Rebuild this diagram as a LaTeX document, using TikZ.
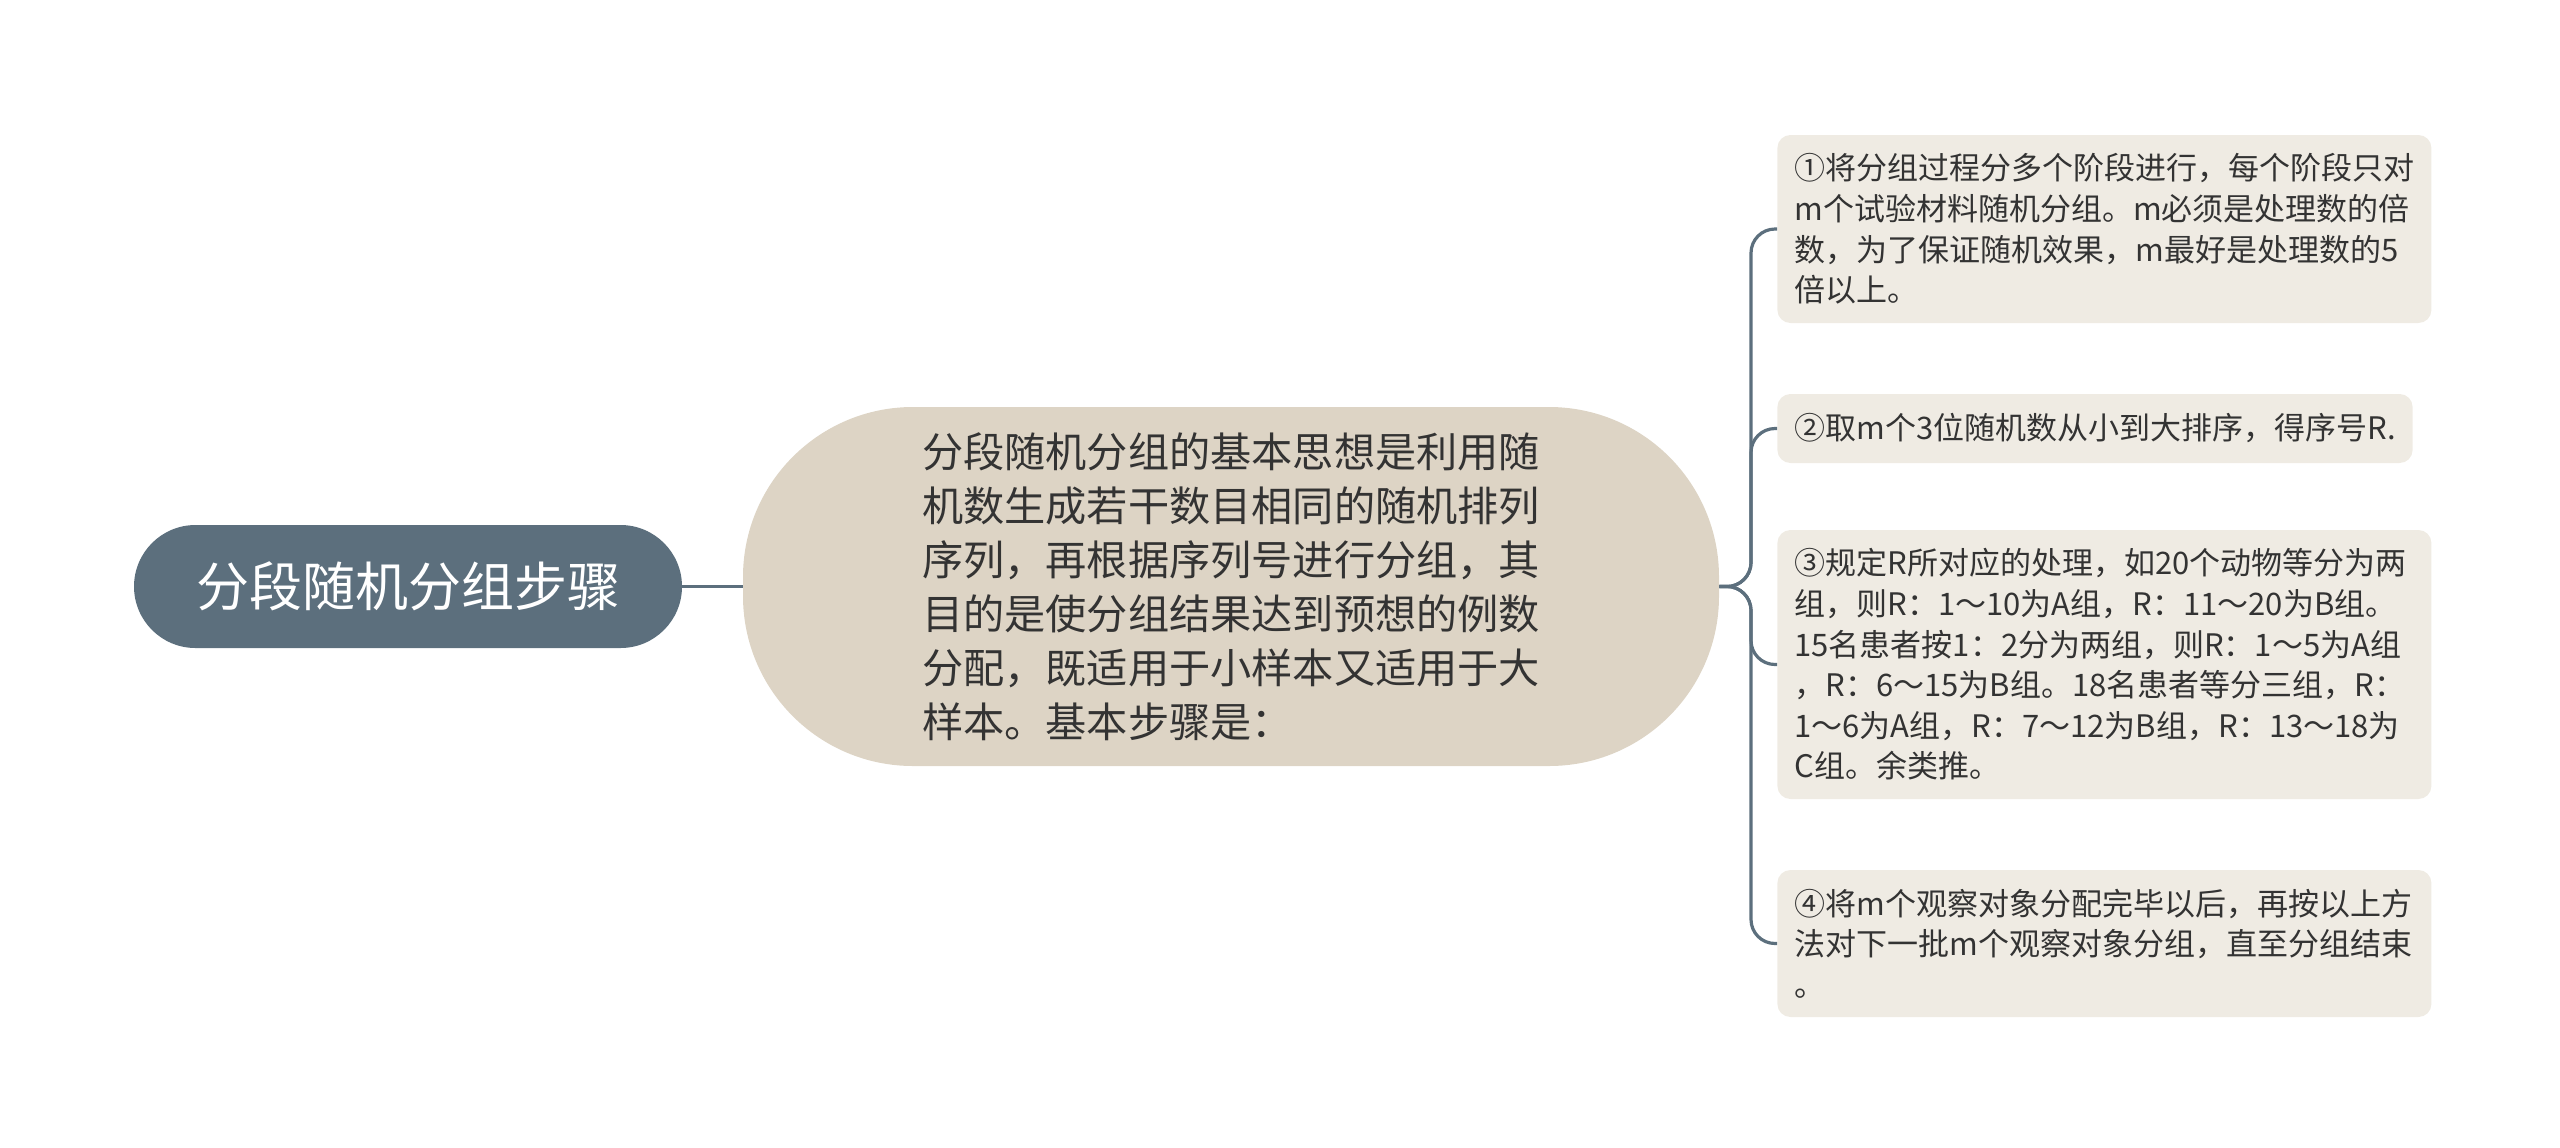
\documentclass[tikz,border=0pt]{standalone}
\usepackage{fontspec}
\newfontfamily\cjk{Noto Sans CJK SC}
\definecolor{connc}{HTML}{5C6F7D}
\definecolor{rootc}{HTML}{5C6F7D}
\definecolor{centc}{HTML}{DDD4C5}
\definecolor{leafc}{HTML}{EFEBE3}
\definecolor{txtc}{HTML}{333333}
\begin{document}
\begin{tikzpicture}[x=0.5pt,y=-0.5pt,
  conn/.style={draw=connc,line width=1.6pt,rounded corners=12pt},
  rootbox/.style={fill=rootc,text=white,rounded corners=30.75pt,minimum width=274pt,minimum height=61.5pt,inner sep=0pt,font=\cjk\fontsize{26.5}{30}\selectfont},
  centbox/.style={fill=centc,text=txtc,rounded corners=85pt,minimum width=488pt,minimum height=179.5pt,inner sep=0pt,align=left,font=\cjk\fontsize{20.6}{27}\selectfont},
  leafbox/.style={fill=leafc,text=txtc,rounded corners=6.5pt,anchor=west,inner xsep=8.5pt,inner ysep=0pt,align=left,font=\cjk\fontsize{15.5}{20.3}\selectfont}
]
\useasboundingbox (0,0) rectangle (2560,1147);
\node[rootbox] (r) at (408,586.5) {分段随机分组步骤};
\node[centbox] (c) at (1231,586.5) {分段随机分组的基本思想是利用随\\机数生成若干数目相同的随机排列\\序列，再根据序列号进行分组，其\\目的是使分组结果达到预想的例数\\分配，既适用于小样本又适用于大\\样本。基本步骤是：};
\node[leafbox,text width=310pt,minimum height=94pt] (b1) at (1777,229) {①将分组过程分多个阶段进行，每个阶段只对\\m个试验材料随机分组。m必须是处理数的倍\\数，为了保证随机效果，m最好是处理数的5\\倍以上。};
\node[leafbox,minimum height=34.5pt] (b2) at (1777,428.5) {②取m个3位随机数从小到大排序，得序号R.};
\node[leafbox,text width=310pt,minimum height=134.5pt] (b3) at (1777,664.5) {③规定R所对应的处理，如20个动物等分为两\\组，则R：1～10为A组，R：11～20为B组。\\15名患者按1：2分为两组，则R：1～5为A组\\，R：6～15为B组。18名患者等分三组，R：\\1～6为A组，R：7～12为B组，R：13～18为\\C组。余类推。};
\node[leafbox,text width=310pt,minimum height=73.5pt] (b4) at (1777,943.5) {④将m个观察对象分配完毕以后，再按以上方\\法对下一批m个观察对象分组，直至分组结束\\。};
\draw[conn] (r.east) -- (c.west);
\coordinate (j) at (1751,586.5);
\foreach \b in {b1,b2,b3,b4} \draw[conn] (c.east) -- (j) |- (\b.west);
\end{tikzpicture}
\end{document}
